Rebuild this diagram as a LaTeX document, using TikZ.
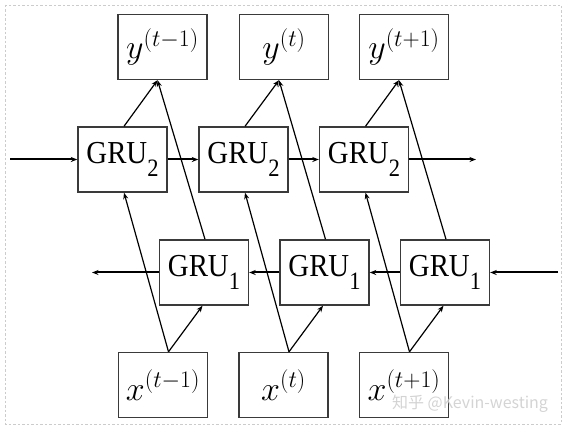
\RequirePackage{fix-cm}
\documentclass[tikz,border=0pt]{standalone}
\usepackage{fontspec}
\newfontfamily\cjkwm{Noto Sans CJK SC}
\newfontfamily\grufont{Liberation Serif}
\usetikzlibrary{arrows.meta,calc}
\definecolor{boxline}{HTML}{3A3A3A}
\tikzset{
  unit/.style={draw=boxline, line width=1.4pt, fill=white, minimum width=89pt, minimum height=65pt, inner sep=0pt},
  grutext/.style={font=\grufont\fontsize{32}{38}\selectfont},
  mathtext/.style={font=\fontsize{34}{40}\selectfont},
  flow/.style={line width=1.2pt, -{Stealth[length=6.5pt,width=5pt]}},
  hflow/.style={line width=2pt, -{Stealth[length=6.5pt,width=5pt]}},
}
\newcommand\grulabel[1]{\scalebox{0.9}[1]{GRU\raisebox{-13pt}{\fontsize{25}{25}\selectfont #1}}}
\begin{document}
\begin{tikzpicture}[x=1pt,y=-1pt]
\useasboundingbox (0,0) rectangle (566,430);
\draw[gray!40, line width=0.7pt, dash pattern=on 2.5pt off 2pt] (5,5) rectangle (561,424);

% outputs
\node[unit, mathtext] (y1) at (162.5,47) {$y^{(t-1)}$};
\node[unit, mathtext] (y2) at (284,47) {$y^{(t)}$};
\node[unit, mathtext] (y3) at (404,47) {$y^{(t+1)}$};
% GRU2 row
\node[unit, grutext] (ga) at (122.5,159.5) {\grulabel{2}};
\node[unit, grutext] (gb) at (243.5,159.5) {\grulabel{2}};
\node[unit, grutext] (gc) at (364,159.5) {\grulabel{2}};
% GRU1 row
\node[unit, grutext] (ha) at (204,272.5) {\grulabel{1}};
\node[unit, grutext] (hb) at (324.5,272.5) {\grulabel{1}};
\node[unit, grutext] (hc) at (445,272.5) {\grulabel{1}};
% inputs
\node[unit, mathtext] (x1) at (163,385) {$x^{(t-1)}$};
\node[unit, mathtext] (x2) at (283.5,385) {$x^{(t)}$};
\node[unit, mathtext] (x3) at (404,385) {$x^{(t+1)}$};

% free ends of the recurrent chains
\coordinate (inR) at (10,159.5);
\coordinate (outR) at (476,159.5);
\coordinate (inL) at (558,272.5);
\coordinate (outL) at (92,272.5);

% forward chain (GRU2)
\draw[hflow] (inR) -- (ga.west);
\draw[hflow] (ga.east) -- (gb.west);
\draw[hflow] (gb.east) -- (gc.west);
\draw[hflow] (gc.east) -- (outR);
% backward chain (GRU1)
\draw[hflow] (inL) -- (hc.east);
\draw[hflow] (hc.west) -- (hb.east);
\draw[hflow] (hb.west) -- (ha.east);
\draw[hflow] (ha.west) -- (outL);

% diagonal connections per time step
\foreach \x/\g/\h/\y in {x1/ga/ha/y1, x2/gb/hb/y2, x3/gc/hc/y3}{
  \draw[flow] ($(\x.north)+(5.5,0)$) -- ($(\g.south)+(1.5,0)$);
  \draw[flow] ($(\x.north)+(5.5,0)$) -- ($(\h.south)+(-1.5,0)$);
  \draw[flow] ($(\g.north)+(1.5,0)$) -- ($(\y.south)+(-5,0)$);
  \draw[flow] ($(\h.north)+(1,0)$) -- ($(\y.south)+(-5,0)$);
}

% watermark
\node[font=\cjkwm\fontsize{16}{16}\selectfont, text=gray!40, opacity=0.85, inner sep=0pt] (wm) at (470,404) {知乎 @Kevin-westing};
\end{tikzpicture}
\end{document}
